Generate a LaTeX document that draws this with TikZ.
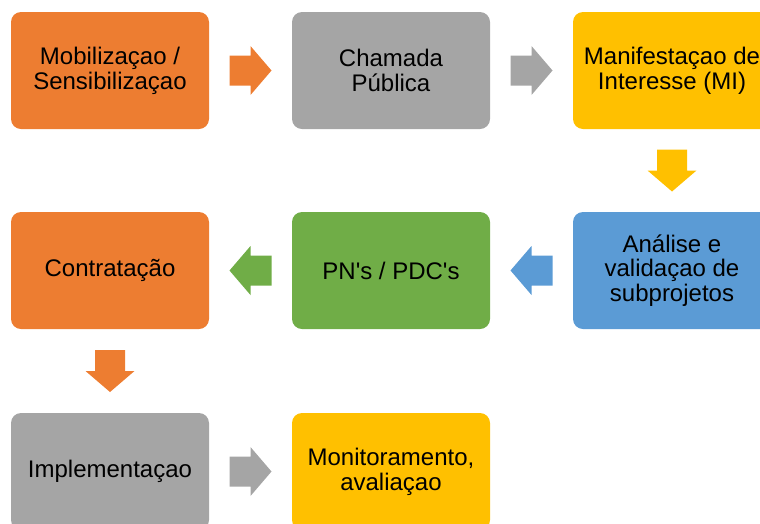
\documentclass[tikz,border=0pt]{standalone}
\usepackage{fontspec}
\setmainfont{Liberation Sans}[Ligatures=TeXOff]
\definecolor{corange}{HTML}{ED7D31}
\definecolor{cgray}{HTML}{A5A5A5}
\definecolor{cyellow}{HTML}{FFC000}
\definecolor{cblue}{HTML}{5B9BD5}
\definecolor{cgreen}{HTML}{70AD47}
\tikzset{
  stepbox/.style={rounded corners=10pt, minimum width=198pt, minimum height=117pt,
    inner sep=0pt, align=center, text=black,
    font=\fontsize{24}{24.8}\selectfont},
  blockarrow/.pic={
    \fill[pic actions] (-21pt,-15pt) -- (0pt,-15pt) -- (0pt,-24.5pt) -- (21pt,0pt)
      -- (0pt,24.5pt) -- (0pt,15pt) -- (-21pt,15pt) -- cycle;
  }
}
\begin{document}
\begin{tikzpicture}[x=1pt,y=-1pt]
\useasboundingbox (0,0) rectangle (760,523);
% row 1
\node[stepbox, fill=corange] (mob) at (110,70.5) {Mobilizaçao /\\Sensibilizaçao};
\node[stepbox, fill=cgray] (cham) at (391,70.5) {Chamada\\Pública};
\node[stepbox, fill=cyellow] (mani) at (672,70.5) {Manifestaçao de\\Interesse (MI)};
% row 2
\node[stepbox, fill=corange] (contr) at (110,270.5) {Contratação};
\node[stepbox, fill=cgreen] (pdc) at (391,270.5) {PN's / PDC's};
\node[stepbox, fill=cblue] (anal) at (672,270.5) {Análise e\\validaçao de\\subprojetos};
% row 3
\node[stepbox, fill=cgray] (impl) at (110,471.5) {Implementaçao};
\node[stepbox, fill=cyellow] (moni) at (391,471.5) {Monitoramento,\\avaliaçao};
% arrows
\path (mob.east) -- (cham.west) coordinate[pos=0.5] (a1);
\path (cham.east) -- (mani.west) coordinate[pos=0.5] (a2);
\path (mani.south) -- (anal.north) coordinate[pos=0.5] (a3);
\path (anal.west) -- (pdc.east) coordinate[pos=0.5] (a4);
\path (pdc.west) -- (contr.east) coordinate[pos=0.5] (a5);
\path (contr.south) -- (impl.north) coordinate[pos=0.5] (a6);
\path (impl.east) -- (moni.west) coordinate[pos=0.5] (a7);
\pic[fill=corange] at (a1) {blockarrow};
\pic[fill=cgray] at (a2) {blockarrow};
\pic[fill=cyellow, rotate=-90] at (a3) {blockarrow};
\pic[fill=cblue, rotate=180] at (a4) {blockarrow};
\pic[fill=cgreen, rotate=180] at (a5) {blockarrow};
\pic[fill=corange, rotate=-90] at (a6) {blockarrow};
\pic[fill=cgray] at (a7) {blockarrow};
\end{tikzpicture}
\end{document}
